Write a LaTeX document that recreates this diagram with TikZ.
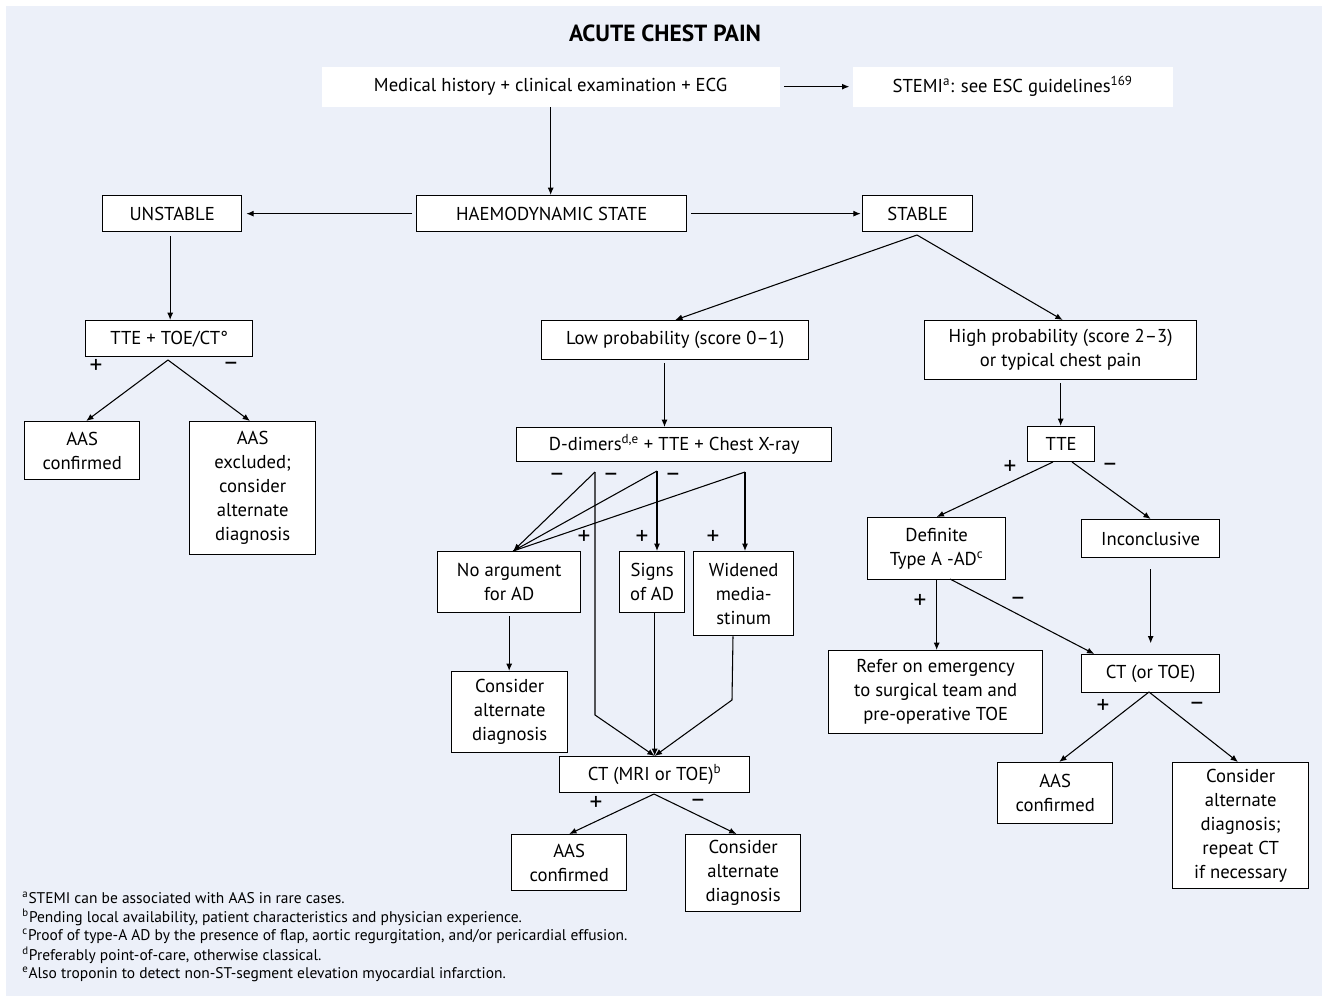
\documentclass[tikz,border=0pt]{standalone}
\usepackage{fontspec}
\setmainfont{PT Sans}
\usetikzlibrary{arrows.meta}
\definecolor{bgblue}{RGB}{236,240,249}
\tikzset{every picture/.style={line width=0.75pt}}
\tikzset{
  box/.style={draw, fill=white, line width=1pt, align=center, inner sep=0pt, anchor=north west, font=\fontsize{14}{18}\selectfont},
  sz/.style 2 args={minimum width=#1*0.75pt, minimum height=#2*0.75pt},
  arr/.style={-{Latex[length=5.5pt,width=4.5pt]}, line width=0.8pt},
  ln/.style={line width=0.8pt},
  sgn/.style={inner sep=0pt, font=\fontsize{19}{20}\selectfont},
  fnote/.style={anchor=west, inner sep=0pt, font=\fontsize{11.6}{14}\selectfont}
}

\begin{document}
\begin{tikzpicture}[x=0.75pt,y=0.75pt,yscale=-1,xscale=1]
\useasboundingbox (0,0) rectangle (1322,996);
%Shape: Background
\fill[bgblue] (6,6) rectangle (1322,996);

% Text Node
\node[font=\fontsize{17.5}{20}\selectfont\bfseries] (title) at (665,33) {ACUTE CHEST PAIN};

%Shape: Boxes, top rows
\node[box, draw=none, sz={458}{40}] (hist) at (321,66) {Medical history + clinical examination + ECG};
\node[box, draw=none, sz={320}{40}] (stemi) at (852,66) {STEMI\textsuperscript{a}: see ESC guidelines\textsuperscript{169}};
\node[box, sz={270}{36}] (haemo) at (416,195) {HAEMODYNAMIC STATE};
\node[box, sz={139}{36}] (unstable) at (102,195) {UNSTABLE};
\node[box, sz={110}{36}] (stable) at (862,195) {STABLE};

%Shape: Boxes, unstable branch
\node[box, sz={167}{36}] (tteu) at (85,320) {TTE + TOE/CT°};
\node[box, sz={115}{58}] (aasA) at (24,421) {AAS\\confirmed};
\node[box, sz={126}{133}] (aasX) at (189,421) {AAS\\excluded;\\consider\\alternate\\diagnosis};

%Shape: Boxes, low probability branch
\node[box, sz={267}{39}] (lowp) at (541,320) {Low probability (score 0–1)};
\node[box, sz={315}{34}] (ddim) at (516,427) {D-dimers\textsuperscript{d,e} + TTE + Chest X-ray};
\node[box, sz={143}{61}] (noarg) at (437,551) {No argument\\for AD};
\node[box, sz={65}{61}] (signs) at (619,551) {Signs\\of AD};
\node[box, sz={100}{84}] (widen) at (693,551) {Widened\\media-\\stinum};
\node[box, sz={116}{81}] (altL) at (451,671) {Consider\\alternate\\diagnosis};
\node[box, sz={190}{36}] (ctL) at (559,756) {CT (MRI or TOE)\textsuperscript{b}};
\node[box, sz={115}{56}] (aasB) at (511,834) {AAS\\confirmed};
\node[box, sz={115}{77}] (altB) at (685,834) {Consider\\alternate\\diagnosis};

%Shape: Boxes, high probability branch
\node[box, sz={272}{59}] (highp) at (924,320) {High probability (score 2–3)\\or typical chest pain};
\node[box, sz={67}{35}] (tteh) at (1027,426) {TTE};
\node[box, sz={138}{62}] (defin) at (867,517) {Definite\\Type A -AD\textsuperscript{c}};
\node[box, sz={138}{38}] (incon) at (1081,519) {Inconclusive};
\node[box, sz={214}{83}] (refer) at (828,650) {Refer on emergency\\to surgical team and\\pre-operative TOE};
\node[box, sz={138}{38}] (ctR) at (1081,654) {CT (or TOE)};
\node[box, sz={115}{61}] (aasC) at (997,762) {AAS\\confirmed};
\node[box, sz={136}{126}] (altR) at (1172,762) {Consider\\alternate\\diagnosis;\\repeat CT\\if necessary};

%Shape: Fork points
\coordinate (tteuF) at (168,360);
\coordinate (stableF) at (917,235);
\coordinate (dA) at (595,472);
\coordinate (dB) at (657,471);
\coordinate (dC) at (745,472);
\coordinate (dA2) at (595,715);
\coordinate (wB) at (732,700);
\coordinate (ctLF) at (654,794);
\coordinate (ttehP) at (1053,462);
\coordinate (ttehM) at (1072,462);
\coordinate (definM) at (950,579);
\coordinate (ctRF) at (1149,692);

%Straight Lines: top
\draw[arr] (hist.south) -- (hist.south |- haemo.north);
\draw[arr, shorten <=3pt, shorten >=2pt] (hist.east) -- (stemi.west);
\draw[arr, shorten <=3pt, shorten >=3pt] (haemo.west) -- (unstable.east);
\draw[arr, shorten <=3pt, shorten >=1pt] (haemo.east) -- (stable.west);

%Straight Lines: unstable
\draw[arr, shorten <=3pt] ([xshift=-1.5pt]unstable.south) -- ([xshift=-1.5pt]unstable.south |- tteu.north);
\draw[arr] (tteuF) -- ([xshift=3pt]aasA.north);
\draw[arr] (tteuF) -- ([xshift=-2pt]aasX.north);
\node[sgn] (p1) at (96,366) {+};
\node[sgn] (m1) at (231,366) {–};

%Straight Lines: stable
\draw[arr] (stableF) -- (lowp.north);
\draw[arr] (stableF) -- ([xshift=1.5pt]highp.north);

%Straight Lines: low probability
\draw[arr, shorten <=2pt] ([xshift=-8pt]lowp.south) -- ([xshift=-8pt]lowp.south |- ddim.north);
\draw[arr] (dA) -- ([xshift=3pt]noarg.north);
\draw[ln] (dB) -- ([xshift=3pt]noarg.north);
\draw[ln] (dC) -- ([xshift=3pt]noarg.north);
\draw[arr] (dB) -- (dB |- signs.north);
\draw[arr] (dC) -- (dC |- widen.north);
\draw[arr] (dA) -- (dA2) -- (ctL.north);
\node[sgn] (m2) at (557,477) {–};
\node[sgn] (m3) at (611,477) {–};
\node[sgn] (m4) at (673,477) {–};
\node[sgn] (p2) at (584,537) {+};
\node[sgn] (p3) at (642,537) {+};
\node[sgn] (p4) at (713,537) {+};
\draw[arr, shorten <=2pt] (noarg.south) -- (noarg.south |- altL.north);
\draw[arr] (ctL.north |- signs.south) -- (ctL.north);
\draw[arr] ([xshift=-8pt]widen.south) -- (wB) -- (ctL.north);
\draw[arr] (ctLF) -- (aasB.north);
\draw[arr] (ctLF) -- ([xshift=-5pt]altB.north);
\node[sgn] (p5) at (596,803) {+};
\node[sgn] (m5) at (698,803) {–};

%Straight Lines: high probability
\draw[arr, shorten <=2pt] (highp.south) -- (highp.south |- tteh.north);
\draw[arr] (ttehP) -- (defin.north);
\draw[arr] (ttehM) -- (incon.north);
\node[sgn] (p6) at (1010,467) {+};
\node[sgn] (m6) at (1110,467) {–};
\draw[arr] (defin.south) -- (defin.south |- refer.north);
\draw[arr] (definM) -- ([xshift=10pt]ctR.north west);
\node[sgn] (p7) at (920,601) {+};
\node[sgn] (m7) at (1018,601) {–};
\draw[arr, shorten <=8pt, shorten >=8pt] (incon.south) -- (incon.south |- ctR.north);
\draw[arr] (ctRF) -- ([xshift=3pt]aasC.north);
\draw[arr] (ctRF) -- ([xshift=-2pt]altR.north);
\node[sgn] (p8) at (1103,706) {+};
\node[sgn] (m8) at (1197,706) {–};

% Text Node: footnotes
\node[fnote] (fa) at (22,898) {\textsuperscript{a}STEMI can be associated with AAS in rare cases.};
\node[fnote] (fb) at (22,917) {\textsuperscript{b}Pending local availability, patient characteristics and physician experience.};
\node[fnote] (fc) at (22,936) {\textsuperscript{c}Proof of type-A AD by the presence of flap, aortic regurgitation, and/or pericardial effusion.};
\node[fnote] (fd) at (22,955) {\textsuperscript{d}Preferably point-of-care, otherwise classical.};
\node[fnote] (fe) at (22,974) {\textsuperscript{e}Also troponin to detect non-ST-segment elevation myocardial infarction.};

\end{tikzpicture}
\end{document}
